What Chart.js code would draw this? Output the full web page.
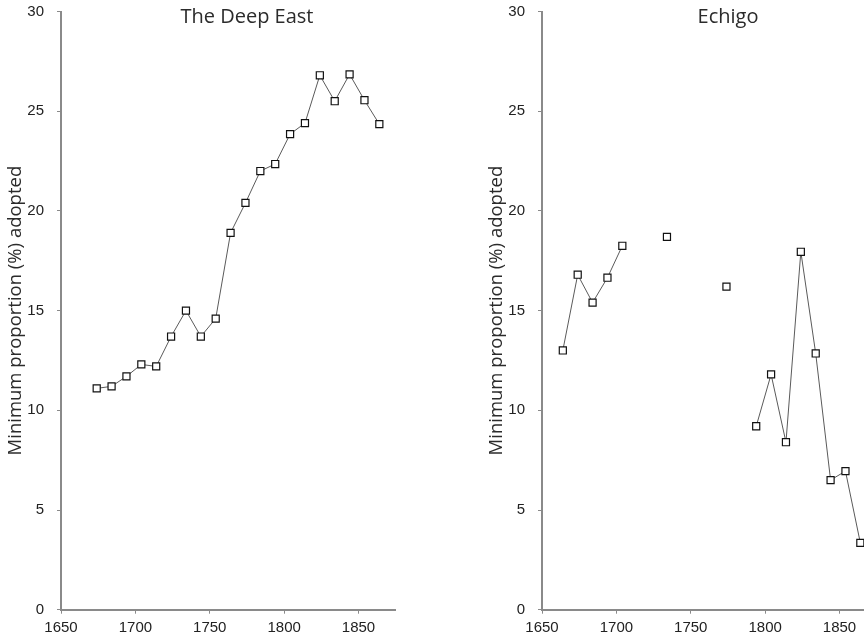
<!DOCTYPE html>
<html>
<head>
<meta charset="utf-8">
<title>Minimum proportion adopted</title>
<script src="https://cdn.jsdelivr.net/npm/chart.js@4.4.1/dist/chart.umd.min.js"></script>
<style>
	html, body { margin: 0; padding: 0; background: #fff; width: 864px; height: 639px; overflow: hidden; }
	.panel { position: absolute; top: 0; width: 432px; height: 639px; }
	#panelEast { left: 0; }
	#panelEchigo { left: 481px; }
</style>
</head>
<body>
<div class="panel" id="panelEast"><canvas id="eastChart"></canvas></div>
<div class="panel" id="panelEchigo"><canvas id="echigoChart"></canvas></div>
<script>
// data
var eastYears = [1674, 1684, 1694, 1704, 1714, 1724, 1734, 1744, 1754, 1764, 1774, 1784, 1794, 1804, 1814, 1824, 1834, 1844, 1854, 1864];
var eastValues = [11.1, 11.2, 11.7, 12.3, 12.2, 13.7, 15.0, 13.7, 14.6, 18.9, 20.4, 22.0, 22.35, 23.85, 24.4, 26.8, 25.5, 26.85, 25.55, 24.35];

var echigoYears = [1664, 1674, 1684, 1694, 1704, 1714, 1724, 1734, 1744, 1754, 1764, 1774, 1784, 1794, 1804, 1814, 1824, 1834, 1844, 1854, 1864];
var echigoValues = [13.0, 16.8, 15.4, 16.65, 18.25, null, null, 18.7, null, null, null, 16.2, null, 9.2, 11.8, 8.4, 17.95, 12.85, 6.5, 6.95, 3.35];

var yearTicks = [1650, 1700, 1750, 1800, 1850];
var valueTicks = [0, 5, 10, 15, 20, 25, 30];

var axisLabel = 'Minimum proportion (%) adopted';

var toPoints = function(years, values) {
	return years.map(function(year, i) {
		return { x: year, y: values[i] };
	});
};

// panel heading drawn inside the plot band, like the original
var panelTitle = {
	id: 'panelTitle',
	afterDraw: function(chart, args, opts) {
		var ctx = chart.ctx;
		ctx.save();
		ctx.font = '20px "Open Sans"';
		ctx.fillStyle = '#2b2b2b';
		ctx.textAlign = 'center';
		ctx.textBaseline = 'alphabetic';
		ctx.fillText(opts.text, opts.x, opts.y);
		ctx.restore();
	}
};

var makePanel = function(canvasId, years, values, title) {
	var ctx = document.getElementById(canvasId);
	return new Chart(ctx, {
		type: 'line',
		data: {
			datasets: [{
				label: title,
				data: toPoints(years, values),
				borderColor: '#5a5a5a',
				borderWidth: 1,
				pointStyle: 'rect',
				pointRadius: 5,
				pointBackgroundColor: '#fff',
				pointBorderColor: '#111',
				pointBorderWidth: 1.2,
				spanGaps: false,
				tension: 0
			}]
		},
		options: {
			responsive: true,
			maintainAspectRatio: false,
			animation: false,
			layout: { padding: { top: 11.5, right: 36.3, bottom: 0, left: 0 } },
			plugins: {
				legend: { display: false },
				tooltip: { enabled: false },
				panelTitle: { text: title, x: 247, y: 23 }
			},
			scales: {
				x: {
					type: 'linear',
					min: 1650,
					max: 1875,
					afterBuildTicks: function(scale) {
						scale.ticks = yearTicks.map(function(v) { return { value: v }; });
					},
					afterFit: function(scale) {
						scale.height = 29.3;
						scale.paddingLeft = 0;
						scale.paddingRight = 0;
					},
					border: { color: '#8a8a8a', width: 2 },
					grid: { drawOnChartArea: false, drawTicks: true, tickLength: 4, color: '#8a8a8a', lineWidth: 1 },
					ticks: {
						padding: 5,
						color: '#222',
						font: { size: 15 },
						maxRotation: 0,
						callback: function(v) { return String(v); }
					}
				},
				y: {
					min: 0,
					max: 30,
					afterBuildTicks: function(scale) {
						scale.ticks = valueTicks.map(function(v) { return { value: v }; });
					},
					afterFit: function(scale) {
						scale.width = 61;
						scale.paddingTop = 0;
						scale.paddingBottom = 0;
					},
					border: { color: '#8a8a8a', width: 2 },
					grid: { drawOnChartArea: false, drawTicks: true, tickLength: 4, color: '#8a8a8a', lineWidth: 1 },
					ticks: {
						padding: 13,
						color: '#222',
						font: { size: 15 },
						callback: function(v) { return String(v); }
					},
					title: {
						display: true,
						text: axisLabel,
						color: '#2b2b2b',
						font: { family: '"Open Sans"', size: 18.5 },
						padding: { top: 5, bottom: 0 }
					}
				}
			}
		},
		plugins: [panelTitle]
	});
};

Chart.defaults.font.family = '"Liberation Sans", Arial, sans-serif';

var eastChart = makePanel('eastChart', eastYears, eastValues, 'The Deep East');
var echigoChart = makePanel('echigoChart', echigoYears, echigoValues, 'Echigo');
</script>
</body>
</html>
